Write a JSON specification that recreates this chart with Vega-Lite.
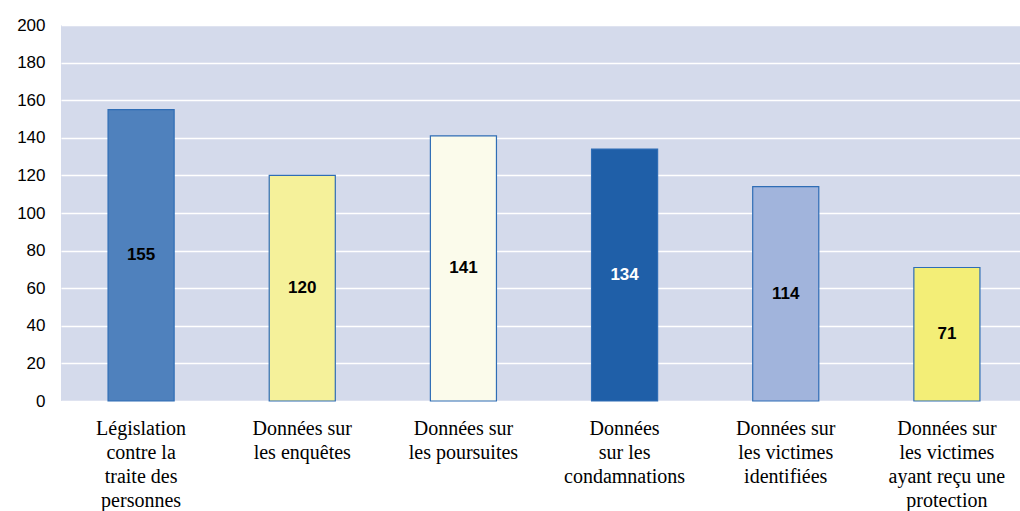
{
  "$schema": "https://vega.github.io/schema/vega-lite/v6.json",
  "autosize": "none",
  "width": 966,
  "height": 376,
  "padding": {"left": 61, "top": 25, "right": 0, "bottom": 110},
  "background": "white",
  "config": {
    "view": {"fill": "#D4DAEB", "stroke": null}
  },
  "data": {
    "values": [
      {"cat": "Législation contre la traite des personnes", "label": "Législation|contre la|traite des|personnes", "value": 155},
      {"cat": "Données sur les enquêtes", "label": "Données sur|les enquêtes", "value": 120},
      {"cat": "Données sur les poursuites", "label": "Données sur|les poursuites", "value": 141},
      {"cat": "Données sur les condamnations", "label": "Données|sur les|condamnations", "value": 134},
      {"cat": "Données sur les victimes identifiées", "label": "Données sur|les victimes|identifiées", "value": 114},
      {"cat": "Données sur les victimes ayant reçu une protection", "label": "Données sur|les victimes|ayant reçu une|protection", "value": 71}
    ]
  },
  "encoding": {
    "x": {
      "field": "label",
      "type": "nominal",
      "sort": null,
      "scale": {"paddingInner": 0.59, "paddingOuter": 0.292},
      "axis": {
        "title": null,
        "labelAngle": 0,
        "labelExpr": "split(datum.label, '|')",
        "labelFont": "Times New Roman",
        "labelFontSize": 20,
        "labelLineHeight": 24,
        "labelColor": "black",
        "labelPadding": 17,
        "labelBaseline": "top",
        "domain": false,
        "ticks": false
      }
    }
  },
  "layer": [
    {
      "mark": {"type": "bar", "stroke": "#2F6DB5", "strokeWidth": 1.2},
      "encoding": {
        "y": {
          "field": "value",
          "type": "quantitative",
          "scale": {"domain": [0, 200]},
          "axis": {
            "title": null,
            "values": [0, 20, 40, 60, 80, 100, 120, 140, 160, 180, 200],
            "grid": true,
            "gridColor": "white",
            "gridWidth": 1.5,
            "domain": false,
            "ticks": false,
            "labelFont": "Liberation Sans",
            "labelFontSize": 17,
            "labelColor": "black",
            "labelPadding": 16
          }
        },
        "fill": {
          "field": "cat",
          "type": "nominal",
          "scale": {
            "domain": [
              "Législation contre la traite des personnes",
              "Données sur les enquêtes",
              "Données sur les poursuites",
              "Données sur les condamnations",
              "Données sur les victimes identifiées",
              "Données sur les victimes ayant reçu une protection"
            ],
            "range": ["#4F81BD", "#F5F19A", "#FBFBEB", "#1F5FA8", "#A1B4DC", "#F3EE77"]
          },
          "legend": null
        }
      }
    },
    {
      "mark": {"type": "text", "font": "Liberation Sans", "fontWeight": "bold", "fontSize": 17, "baseline": "middle"},
      "encoding": {
        "y": {
          "field": "value",
          "type": "quantitative",
          "scale": {"domain": [0, 400]},
          "axis": null
        },
        "text": {"field": "value", "type": "quantitative"},
        "color": {
          "condition": {"test": "datum.value === 134", "value": "white"},
          "value": "black"
        }
      }
    }
  ],
  "resolve": {"scale": {"y": "independent"}}
}
